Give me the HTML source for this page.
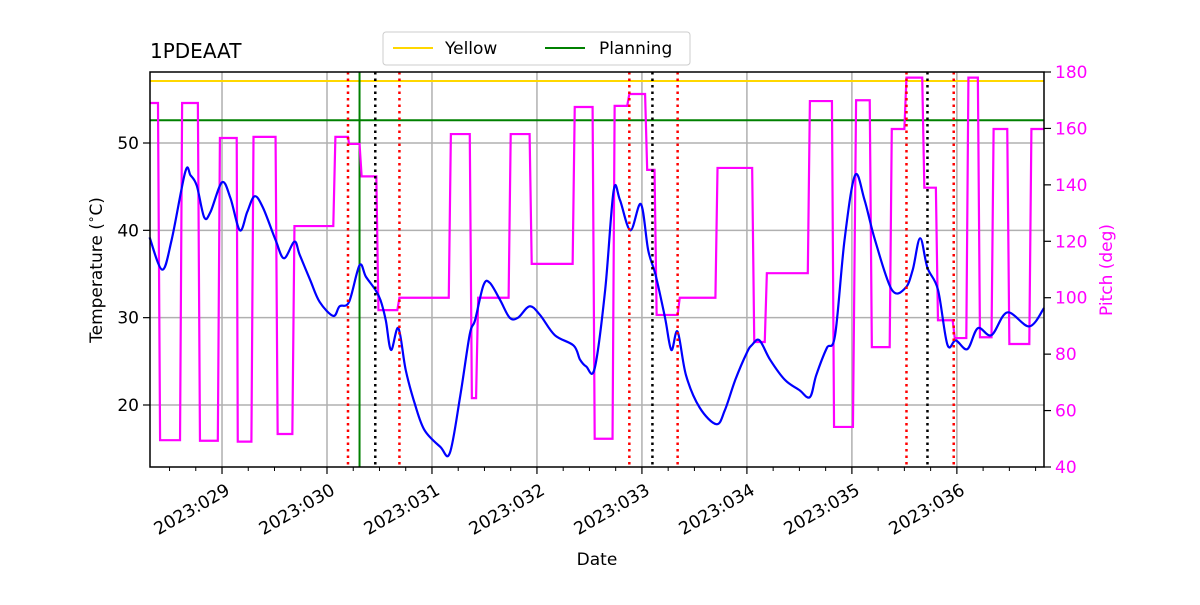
<!DOCTYPE html>
<html><head><meta charset="utf-8"><style>
body{margin:0;background:#fff}
svg text{font-family:"DejaVu Sans","Liberation Sans",sans-serif}
</style></head><body>
<svg id="chart" width="1200" height="600" xmlns="http://www.w3.org/2000/svg">
<rect width="1200" height="600" fill="#fff"/>
<g id="grid"></g>
<g id="marks"></g>
<g id="axes"></g>
<text x="150" y="58" font-size="20">1PDEAAT</text>
<text x="597" y="565" font-size="17" text-anchor="middle">Date</text>
<text transform="translate(102,270) rotate(-90)" font-size="17" text-anchor="middle">Temperature (<tspan font-size="12" dy="-7">∘</tspan><tspan dy="7">C)</tspan></text>
<text transform="translate(1112,270) rotate(-90)" font-size="17" text-anchor="middle" fill="#ff00ff">Pitch (deg)</text>
<g>
<rect x="383" y="32" width="307" height="33" fill="#fff" stroke="#ccc" rx="3"/>
<line x1="393" y1="48" x2="433" y2="48" stroke="#ffd700" stroke-width="2"/>
<text x="445" y="54" font-size="17">Yellow</text>
<line x1="545" y1="48" x2="585" y2="48" stroke="#008000" stroke-width="2"/>
<text x="599" y="54" font-size="17">Planning</text>
</g>
</svg>
<script>
const tempDays=[28.31,28.43,28.52,28.65,28.70,28.76,28.83,28.89,29.00,29.08,29.17,29.24,29.31,29.39,29.51,29.59,29.69,29.74,29.84,29.93,30.06,30.12,30.21,30.31,30.37,30.46,30.51,30.56,30.61,30.68,30.75,30.84,30.93,31.08,31.17,31.27,31.36,31.41,31.49,31.55,31.65,31.74,31.82,31.93,32.03,32.17,32.35,32.41,32.47,32.55,32.65,32.73,32.79,32.89,32.99,33.06,33.13,33.22,33.28,33.34,33.42,33.55,33.71,33.79,33.89,34.00,34.05,34.12,34.22,34.36,34.50,34.60,34.66,34.76,34.84,34.93,35.03,35.12,35.22,35.38,35.51,35.58,35.65,35.72,35.82,35.91,35.99,36.10,36.20,36.33,36.48,36.69,36.83];
const tempVals=[39.2,35.5,38.9,46.7,46.3,45.1,41.5,42.1,45.5,43.7,40.0,42.1,43.9,42.6,38.9,36.8,38.7,37.2,34.3,31.8,30.2,31.3,31.8,36.0,34.7,33.2,32.0,29.7,26.3,28.8,24.0,20.0,17.1,15.2,14.5,21.1,28.1,29.7,33.7,34.0,32.0,30.0,30.0,31.3,30.3,28.0,26.8,25.2,24.4,24.2,33.2,44.5,43.5,40.0,43.0,37.7,34.9,30.0,26.3,28.4,23.4,19.7,17.8,19.4,22.9,26.0,26.9,27.4,25.2,22.9,21.7,20.9,23.4,26.5,28.0,38.9,46.3,43.5,38.9,33.2,33.4,35.5,39.1,35.7,33.2,26.9,27.4,26.4,28.8,28.0,30.6,29.0,31.1];
const pitchStart=[28.31,28.41,28.62,28.79,28.98,29.15,29.30,29.53,29.69,30.08,30.21,30.33,30.49,30.69,31.18,31.38,31.44,31.75,31.95,32.36,32.55,32.74,32.88,33.05,33.14,33.36,33.72,34.07,34.19,34.60,34.83,35.04,35.19,35.38,35.52,35.69,35.82,35.98,36.11,36.22,36.35,36.50,36.71];
const pitchEnd=[28.39,28.60,28.77,28.96,29.14,29.28,29.51,29.67,30.06,30.20,30.31,30.47,30.67,31.16,31.36,31.42,31.73,31.93,32.34,32.53,32.72,32.86,33.03,33.12,33.34,33.70,34.05,34.17,34.58,34.81,35.01,35.17,35.36,35.50,35.67,35.80,35.96,36.09,36.20,36.33,36.48,36.69,36.83];
const pitchVals=[169,49.5,169,49.3,156.6,49,157,51.7,125.4,157,154.5,143,95.6,100,158,64.4,100,158,112,167.6,50,168,172.2,145.3,93.9,100,146,84.3,108.7,169.7,54.2,170,82.5,159.8,178,139,92,85.7,178,86,159.8,83.6,159.8];
const redLines=[30.20,30.69,32.88,33.34,35.52,35.97];
const blackLines=[30.46,33.10,35.72];
const planningDay=30.31, yellowLimit=57.1, planningLimit=52.6;
const xTicks=[29,30,31,32,33,34,35,36];
const xTickLabels=["2023:029","2023:030","2023:031","2023:032","2023:033","2023:034","2023:035","2023:036"];
const yTicks=[20,30,40,50];
const y2Ticks=[40,60,80,100,120,140,160,180];

const L=150,R=1044,T=72,B=467;
const xs=d=>L+(d-28.314)/(36.83-28.314)*(R-L);
const ys=v=>B-(v-12.9)/(58.13-12.9)*(B-T);
const y2=v=>B-(v-40)/140*(B-T);
const NS="http://www.w3.org/2000/svg";
function mk(parent,tag,attrs){const e=document.createElementNS(NS,tag);for(const k in attrs)e.setAttribute(k,attrs[k]);document.getElementById(parent).appendChild(e);return e;}

xTicks.forEach(d=>{const e=mk('grid','line',{x1:xs(d),x2:xs(d),y1:T,y2:B,stroke:'#b0b0b0','stroke-width':1.5});

});
yTicks.forEach(v=>{const e=mk('grid','line',{x1:L,x2:R,y1:ys(v),y2:ys(v),stroke:'#b0b0b0','stroke-width':1.5});

});

let e;
e=mk('marks','line',{x1:L,x2:R,y1:ys(yellowLimit),y2:ys(yellowLimit),stroke:'#ffd700','stroke-width':2});


e=mk('marks','line',{x1:L,x2:R,y1:ys(planningLimit),y2:ys(planningLimit),stroke:'#008000','stroke-width':2});


e=mk('marks','line',{x1:xs(planningDay),x2:xs(planningDay),y1:T,y2:B,stroke:'#008000','stroke-width':2});



let pp=[];pitchVals.forEach((v,i)=>{pp.push(xs(pitchStart[i])+','+y2(v));pp.push(xs(pitchEnd[i])+','+y2(v));});
e=mk('marks','polyline',{points:pp.join(' '),fill:'none',stroke:'#ff00ff','stroke-width':2.2});



const pts=tempDays.map((d,i)=>[xs(d),ys(tempVals[i])]);
let dpath='M'+pts[0][0]+','+pts[0][1];
for(let i=0;i<pts.length-1;i++){const p0=pts[Math.max(0,i-1)],p1=pts[i],p2=pts[i+1],p3=pts[Math.min(pts.length-1,i+2)];
const c1=[p1[0]+(p2[0]-p0[0])/6,p1[1]+(p2[1]-p0[1])/6],c2=[p2[0]-(p3[0]-p1[0])/6,p2[1]-(p3[1]-p1[1])/6];
dpath+=` C${c1[0]},${c1[1]} ${c2[0]},${c2[1]} ${p2[0]},${p2[1]}`;}
e=mk('marks','path',{d:dpath,fill:'none',stroke:'#0000ff','stroke-width':2.2});



redLines.forEach(d=>{const e=mk('marks','line',{x1:xs(d),x2:xs(d),y1:T,y2:B,stroke:'#ff0000','stroke-width':2.5,'stroke-dasharray':'2.5,4'});

});
blackLines.forEach(d=>{const e=mk('marks','line',{x1:xs(d),x2:xs(d),y1:T,y2:B,stroke:'#000','stroke-width':2.5,'stroke-dasharray':'2.5,4'});

});

e=mk('axes','rect',{x:L,y:T,width:R-L,height:B-T,fill:'none',stroke:'#000','stroke-width':1.5});


for(let d=28.5;d<36.83;d+=0.25){if(Math.abs(d-Math.round(d))<0.01)continue;
const e=mk('axes','line',{x1:xs(d),x2:xs(d),y1:B,y2:B+4,stroke:'#000'});

}
xTicks.forEach((d,i)=>{let e=mk('axes','line',{x1:xs(d),x2:xs(d),y1:B,y2:B+7,stroke:'#000','stroke-width':1.2});


e=mk('axes','text',{transform:`translate(${xs(d)+3},${B+16}) rotate(-30)`,'text-anchor':'end','font-size':17.5,'dominant-baseline':'hanging'});
e.textContent=xTickLabels[i];

});
yTicks.forEach(v=>{let e=mk('axes','line',{x1:L-7,x2:L,y1:ys(v),y2:ys(v),stroke:'#000','stroke-width':1.2});


e=mk('axes','text',{x:L-11,y:ys(v)+6,'text-anchor':'end','font-size':17});e.textContent=v;

});
y2Ticks.forEach(v=>{let e=mk('axes','line',{x1:R,x2:R+7,y1:y2(v),y2:y2(v),stroke:'#000','stroke-width':1.2});


e=mk('axes','text',{x:R+11,y:y2(v)+6,'font-size':17,fill:'#ff00ff'});e.textContent=v;

});
</script>
</body></html>
